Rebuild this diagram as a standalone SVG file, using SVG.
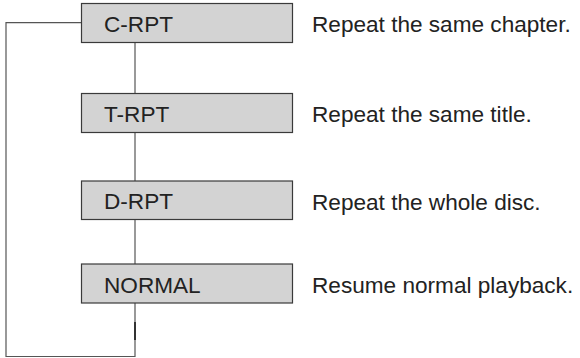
<svg xmlns="http://www.w3.org/2000/svg" width="580" height="358" viewBox="0 0 580 358">
<style>
.box{fill:#d3d3d3;stroke:#3a3a3a;stroke-width:1.2}
.lbl{font-family:"Liberation Sans",Arial,sans-serif;font-size:22.6px;fill:#222}
.con{fill:none;stroke:#555;stroke-width:1.2}
</style>
<rect width="580" height="358" fill="#fff"/>
<g id="connectors">
<line class="con" x1="135" y1="42.5" x2="135" y2="93.5"/>
<line class="con" x1="135" y1="132.5" x2="135" y2="181"/>
<line class="con" x1="135" y1="219.5" x2="135" y2="264"/>
<path class="con" d="M135 303 V356.5 H6 V22.7 H81"/>
<line x1="135" y1="322" x2="135" y2="340" stroke="#333" stroke-width="2"/>
</g>
<g id="c-rpt">
<rect class="box" x="81.5" y="3.5" width="211" height="39"/>
<text class="lbl" x="104" y="31.5">C-RPT</text>
<text class="lbl" x="312" y="31.5">Repeat the same chapter.</text>
</g>
<g id="t-rpt">
<rect class="box" x="81.5" y="93.5" width="211" height="39"/>
<text class="lbl" x="104" y="121.5">T-RPT</text>
<text class="lbl" x="312" y="121.5">Repeat the same title.</text>
</g>
<g id="d-rpt">
<rect class="box" x="81.5" y="181" width="211" height="38.5"/>
<text class="lbl" x="104" y="209">D-RPT</text>
<text class="lbl" x="312" y="209.5">Repeat the whole disc.</text>
</g>
<g id="normal">
<rect class="box" x="81.5" y="264" width="211" height="39"/>
<text class="lbl" x="104" y="292.5">NORMAL</text>
<text class="lbl" x="312" y="292.5">Resume normal playback.</text>
</g>
</svg>
